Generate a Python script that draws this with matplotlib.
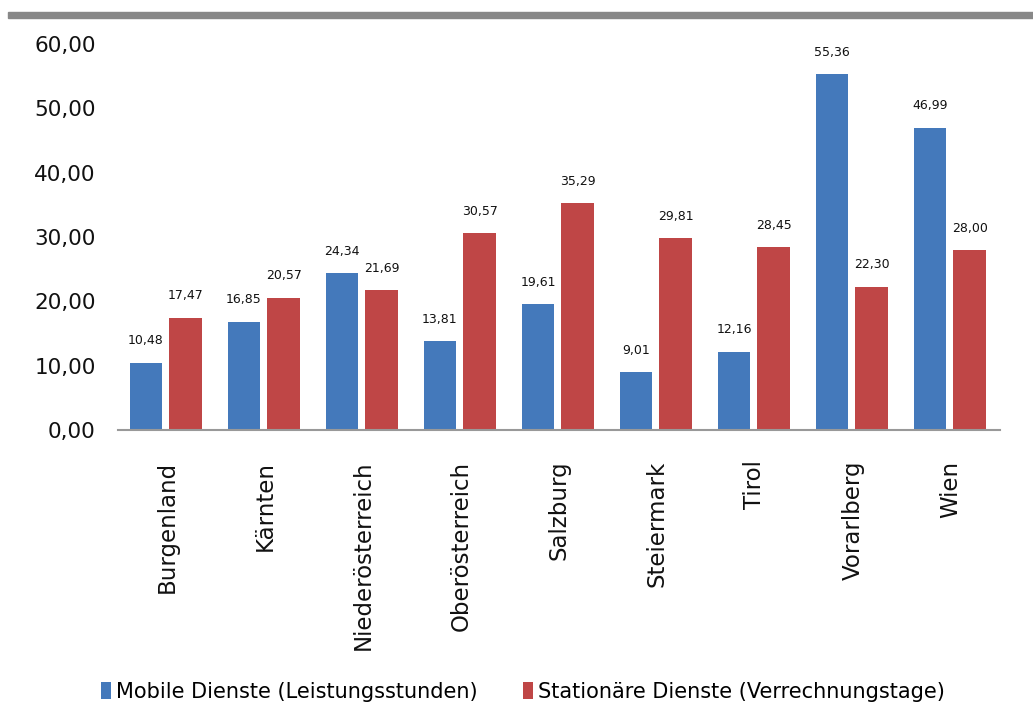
import matplotlib
matplotlib.use("Agg")
import matplotlib.pyplot as plt
import numpy as np
from matplotlib.patches import Rectangle

categories = ["Burgenland", "Kärnten", "Niederösterreich", "Oberösterreich",
              "Salzburg", "Steiermark", "Tirol", "Vorarlberg", "Wien"]
mobile = [10.48, 16.85, 24.34, 13.81, 19.61, 9.01, 12.16, 55.36, 46.99]
stationaer = [17.47, 20.57, 21.69, 30.57, 35.29, 29.81, 28.45, 22.30, 28.00]
series_names = ["Mobile Dienste (Leistungsstunden)", "Stationäre Dienste (Verrechnungstage)"]
yticks = [0, 10, 20, 30, 40, 50, 60]

def fmt(v):
    return f"{v:.2f}".replace(".", ",")

fig = plt.figure(figsize=(10.33, 7.07), dpi=100)
ax = fig.add_axes([118/1033, 1-430/707, 882/1033, (430-44)/707])

x = np.arange(len(categories))
w = 0.33
c_blue = "#4479BB"
c_red = "#BF4646"
b1 = ax.bar(x - 0.215, mobile, w, color=c_blue, label=series_names[0])
b2 = ax.bar(x + 0.19, stationaer, w, color=c_red, label=series_names[1])

for bars, vals in ((b1, mobile), (b2, stationaer)):
    for r, v in zip(bars, vals):
        ax.annotate(fmt(v), (r.get_x() + r.get_width()/2, v), xytext=(0, 11),
                    textcoords="offset points", ha="center", va="bottom",
                    fontsize=9, color="#111111")

ax.set_xlim(-0.5, len(categories) - 0.5)
ax.set_ylim(0, 60)
ax.set_yticks(yticks)
ax.set_yticklabels([fmt(t) for t in yticks], fontsize=15.5, color="#111111")
ax.set_xticks(x)
ax.set_xticklabels(categories, rotation=90, fontsize=16.5, va="top", ha="center", color="#111111")
ax.tick_params(axis="y", length=0, pad=16)
ax.tick_params(axis="x", length=0, pad=22)
for s in ["left", "right", "top"]:
    ax.spines[s].set_visible(False)
ax.spines["bottom"].set_color("#999999")
ax.spines["bottom"].set_linewidth(1.5)

fig.patches.append(Rectangle((8/1033, 1-18/707), 1, 6/707, transform=fig.transFigure,
                             color="#888888", zorder=5))

fig.legend(handles=[b1, b2], labels=series_names, loc="center", bbox_to_anchor=(0.506, 1-692/707),
           ncol=2, frameon=False, fontsize=15, handlelength=0.5, handleheight=0.9,
           handletextpad=0.2, columnspacing=2.2)

fig.savefig("out.png", dpi=100)
